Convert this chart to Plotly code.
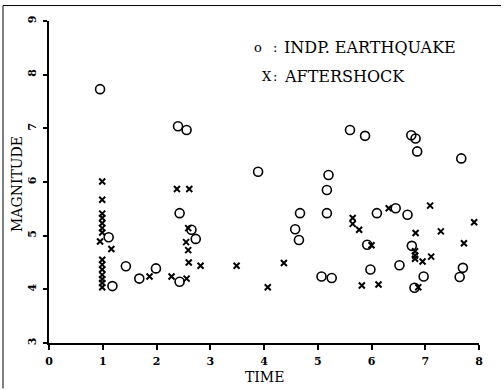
import plotly.graph_objects as go

# Independent earthquakes (time, magnitude)
indp_time = [0.95, 1.11, 1.18, 1.43, 1.68, 1.99, 2.40, 2.56, 2.43, 2.65, 2.73, 2.43,
             3.89, 4.58, 4.65, 4.67, 5.17, 5.20, 5.17, 5.07, 5.26, 5.60, 5.88, 6.74,
             6.82, 6.85, 7.67, 6.10, 6.45, 6.67, 5.92, 6.75, 5.98, 6.52, 6.97, 6.80,
             7.64, 7.70]
indp_mag = [7.73, 4.97, 4.06, 4.43, 4.20, 4.39, 7.04, 6.97, 5.42, 5.11, 4.94, 4.14,
            6.19, 5.12, 4.92, 5.42, 5.85, 6.13, 5.42, 4.24, 4.21, 6.97, 6.86, 6.87,
            6.81, 6.57, 6.44, 5.42, 5.51, 5.39, 4.83, 4.81, 4.37, 4.45, 4.24, 4.03,
            4.23, 4.40]

# Aftershocks (time, magnitude)
after_time = [0.99, 0.99, 0.99, 0.99, 0.99, 0.99, 0.99, 0.95, 0.99, 0.99, 0.99, 0.99,
              0.99, 0.99, 0.99, 1.16, 1.87, 2.38, 2.61, 2.59, 2.55, 2.59, 2.60, 2.28,
              2.56, 2.82, 3.49, 4.07, 4.37, 5.65, 5.65, 5.77, 6.32, 7.09, 7.91, 7.72,
              6.82, 7.29, 6.00, 6.81, 6.81, 6.81, 6.95, 7.11, 5.82, 6.13, 6.87]
after_mag = [6.01, 5.67, 5.41, 5.33, 5.23, 5.14, 5.06, 4.89, 4.55, 4.46, 4.37, 4.27,
             4.19, 4.12, 4.04, 4.75, 4.24, 5.87, 5.87, 5.14, 4.88, 4.73, 4.50, 4.24,
             4.20, 4.44, 4.44, 4.04, 4.49, 5.33, 5.22, 5.11, 5.51, 5.56, 5.25, 4.86,
             5.05, 5.08, 4.82, 4.71, 4.63, 4.57, 4.52, 4.61, 4.07, 4.09, 4.04]

x_ticks = [0, 1, 2, 3, 4, 5, 6, 7, 8]
y_ticks = [3, 4, 5, 6, 7, 8, 9]

legend_symbols = ["o", "X"]
legend_labels = ["INDP. EARTHQUAKE", "AFTERSHOCK"]
x_title = "TIME"
y_title = "MAGNITUDE"

FONT = "DejaVu Serif"
PW, PH, L, B = 430, 323, 49, 343.5


def px(x):
    return (x - L) / PW


def py(y):
    return (B - y) / PH


fig = go.Figure()
fig.add_trace(go.Scatter(
    x=indp_time, y=indp_mag, mode="markers", name="INDP. EARTHQUAKE",
    marker=dict(symbol="circle-open", size=9, color="black", line=dict(width=1.6, color="black")),
))
fig.add_trace(go.Scatter(
    x=after_time, y=after_mag, mode="markers", name="AFTERSHOCK",
    marker=dict(symbol="x-thin", size=6, color="black", line=dict(width=2, color="black")),
))

for sym, lab, sx, yy in zip(legend_symbols, legend_labels, [258, 267], [47, 76]):
    fig.add_annotation(xref="paper", yref="paper", x=px(sx), y=py(yy),
                       text=sym, showarrow=False, xanchor="center", yanchor="middle",
                       font=dict(family=FONT, size=13, color="black"))
    fig.add_annotation(xref="paper", yref="paper", x=px(275), y=py(yy),
                       text=":", showarrow=False, xanchor="center", yanchor="middle",
                       font=dict(family=FONT, size=13, color="black"))
    fig.add_annotation(xref="paper", yref="paper", x=px(282), y=py(yy),
                       text=lab, showarrow=False, xanchor="left", yanchor="middle",
                       font=dict(family=FONT, size=16, color="black"))

# axis titles
fig.add_annotation(xref="paper", yref="paper", x=px(264), y=py(378),
                   text=x_title, showarrow=False, xanchor="center", yanchor="middle",
                   font=dict(family=FONT, size=14, color="black"))
fig.add_annotation(xref="paper", yref="paper", x=px(17), y=py(184),
                   text=y_title, showarrow=False, xanchor="center", yanchor="middle",
                   textangle=-90, font=dict(family=FONT, size=14, color="black"))

# page border (left and top)
fig.add_shape(type="line", xref="paper", yref="paper",
              x0=px(3), x1=px(3), y0=py(5), y1=py(389),
              line=dict(color="black", width=1))
fig.add_shape(type="line", xref="paper", yref="paper",
              x0=px(3), x1=px(501), y0=py(5), y1=py(5),
              line=dict(color="black", width=1))

fig.update_layout(
    width=504, height=389,
    margin=dict(l=49, r=25, t=21, b=45.5, autoexpand=False),
    paper_bgcolor="white", plot_bgcolor="white",
    showlegend=False,
    font=dict(family=FONT, color="black"),
    xaxis=dict(range=[0, 8], tickvals=x_ticks, ticktext=[f"<b>{v}</b>" for v in x_ticks],
               showgrid=False, zeroline=False, showline=True, linecolor="black", linewidth=1.5,
               ticks="outside", ticklen=5, tickwidth=1.5, tickcolor="black",
               ticklabelstandoff=2, automargin=False,
               tickfont=dict(family=FONT, size=11, color="black")),
    yaxis=dict(range=[3, 9], tickvals=y_ticks, ticktext=[f"<b>{v}</b>" for v in y_ticks],
               showgrid=False, zeroline=False, showline=True, linecolor="black", linewidth=1.5,
               ticks="outside", ticklen=4, tickwidth=1.5, tickcolor="black", tickangle=-90,
               ticklabelstandoff=3, automargin=False,
               tickfont=dict(family=FONT, size=11, color="black")),
)

fig.write_html("out.html", config={"displayModeBar": False},
               post_script="document.body.style.margin='0';document.body.style.overflow='hidden';")
